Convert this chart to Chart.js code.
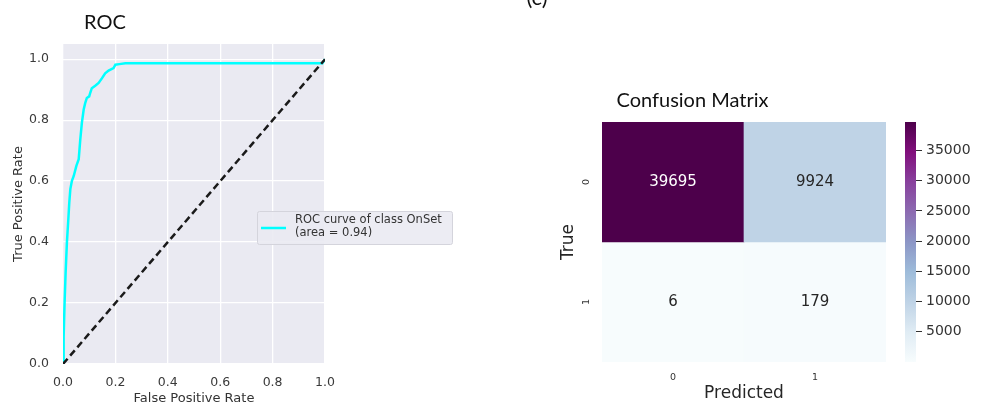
<!DOCTYPE html>
<html>
<head>
<meta charset="utf-8">
<script src="https://cdn.jsdelivr.net/npm/chart.js@4.4.1/dist/chart.umd.min.js"></script>
<style>
  html, body { margin: 0; padding: 0; background: #ffffff; }
  body { width: 984px; height: 406px; position: relative; overflow: hidden; }
  canvas { position: absolute; }
</style>
</head>
<body>
<canvas id="roc" width="560" height="406" style="left:0;top:0"></canvas>
<canvas id="cm" width="336" height="326" style="left:550px;top:80px"></canvas>
<canvas id="cbar" width="104" height="326" style="left:880px;top:80px"></canvas>
<script>
// ---------- ROC curve data ----------
const fpr = [0, 0.0025, 0.006, 0.01, 0.015, 0.02, 0.024, 0.028, 0.034, 0.041, 0.051, 0.06, 0.066,
             0.072, 0.079, 0.085, 0.091, 0.1, 0.104, 0.11, 0.123, 0.136, 0.149, 0.161, 0.174,
             0.193, 0.2, 0.215, 0.238, 0.5, 0.99, 1.0];
const tpr = [0, 0.09, 0.2, 0.3, 0.4, 0.47, 0.53, 0.574, 0.601, 0.617, 0.65, 0.672, 0.737,
             0.791, 0.835, 0.857, 0.873, 0.878, 0.89, 0.905, 0.913, 0.922, 0.938, 0.954, 0.963,
             0.971, 0.982, 0.984, 0.987, 0.987, 0.987, 1.0];
const chanceX = [0, 1];
const chanceY = [0, 1];
const rocTicks = [0, 0.2, 0.4, 0.6, 0.8, 1.0];
const rocLegend = ['ROC curve of class OnSet', '(area = 0.94)'];

// ---------- confusion matrix data ----------
const predLabels = ['0', '1'];
const trueLabels = ['0', '1'];
const row0 = [39695, 9924];
const row1 = [6, 179];
const cbTicks = [5000, 10000, 15000, 20000, 25000, 30000, 35000];

const matrix = [row0, row1];
const vmin = Math.min(...row0, ...row1);
const vmax = Math.max(...row0, ...row1);

// BuPu colour map
const BUPU = ['#f7fcfd', '#e0ecf4', '#bfd3e6', '#9ebcda', '#8c96c6', '#8c6bb1', '#88419d', '#810f7c', '#4d004b'];
function hexRgb(h) { return [1, 3, 5].map(i => parseInt(h.slice(i, i + 2), 16)); }
function bupu(t) {
  t = Math.max(0, Math.min(1, t));
  const p = t * (BUPU.length - 1);
  const i = Math.min(Math.floor(p), BUPU.length - 2);
  const f = p - i;
  const a = hexRgb(BUPU[i]), b = hexRgb(BUPU[i + 1]);
  const c = a.map((v, k) => Math.round(v + (b[k] - v) * f));
  return `rgb(${c[0]},${c[1]},${c[2]})`;
}
const norm = v => (v - vmin) / (vmax - vmin);

const SANS = "'DejaVu Sans', sans-serif";
const TITLE_FONT = "Lato, 'Open Sans', sans-serif";

// ---------- ROC chart ----------
const rocPlugin = {
  id: 'rocDecor',
  beforeDraw(chart) {
    const { ctx, chartArea: a } = chart;
    ctx.save();
    ctx.fillStyle = '#eaeaf2';
    ctx.fillRect(a.left, a.top, a.right - a.left, a.bottom - a.top);
    ctx.restore();
  },
  afterDraw(chart) {
    const { ctx } = chart;
    ctx.save();
    // titles
    ctx.fillStyle = '#111';
    ctx.font = `20px ${TITLE_FONT}`;
    ctx.textAlign = 'center';
    ctx.textBaseline = 'alphabetic';
    ctx.fillText('ROC', 105, 29);
    ctx.font = `22px ${TITLE_FONT}`;
    ctx.fillText('(c)', 537, 5);
    // legend
    const ds = chart.data.datasets.find(d => d.label);
    const x0 = 257, y0 = 211, w = 195, h = 33;
    ctx.fillStyle = 'rgba(234,234,242,0.9)';
    ctx.strokeStyle = '#d4d4dc';
    ctx.lineWidth = 1;
    ctx.beginPath();
    ctx.roundRect(x0 + 0.5, y0 + 0.5, w, h, 2);
    ctx.fill();
    ctx.stroke();
    ctx.strokeStyle = ds.borderColor;
    ctx.lineWidth = 2.5;
    ctx.beginPath();
    ctx.moveTo(261, 228);
    ctx.lineTo(286, 228);
    ctx.stroke();
    ctx.fillStyle = '#333';
    ctx.font = `11.5px ${SANS}`;
    ctx.textAlign = 'left';
    ctx.textBaseline = 'middle';
    ds.label.forEach((t, i) => ctx.fillText(t, 295, 220 + i * 13.3));
    ctx.restore();
  }
};

new Chart(document.getElementById('roc'), {
  type: 'line',
  data: {
    datasets: [
      {
        label: rocLegend,
        data: fpr.map((x, i) => ({ x, y: tpr[i] })),
        borderColor: '#00ffff',
        borderWidth: 2.5,
        pointRadius: 0,
        tension: 0,
        fill: false,
        order: 2
      },
      {
        data: chanceX.map((x, i) => ({ x, y: chanceY[i] })),
        borderColor: '#1a1a1a',
        borderWidth: 2.5,
        borderDash: [7, 4],
        pointRadius: 0,
        fill: false,
        order: 1
      }
    ]
  },
  options: {
    responsive: false,
    devicePixelRatio: 1,
    animation: false,
    layout: { padding: { top: 44, right: 235, left: 0, bottom: 0 } },
    plugins: { legend: { display: false }, tooltip: { enabled: false } },
    scales: {
      x: {
        type: 'linear', min: 0, max: 1,
        afterBuildTicks: s => { s.ticks = rocTicks.map(v => ({ value: v })); },
        afterFit: s => { s.height = 42; },
        grid: { color: '#ffffff', lineWidth: 1.3, drawTicks: false },
        border: { display: false },
        ticks: { callback: v => v.toFixed(1), color: '#3a3a3a', font: { family: SANS, size: 12.5 }, padding: 11, maxRotation: 0 },
        title: { display: true, text: 'False Positive Rate', color: '#333', font: { family: SANS, size: 13 }, padding: { top: 0, bottom: 0 } }
      },
      y: {
        type: 'linear', min: 0, max: 1.05,
        afterBuildTicks: s => { s.ticks = rocTicks.map(v => ({ value: v })); },
        afterFit: s => { s.width = 63; },
        grid: { color: '#ffffff', lineWidth: 1.3, drawTicks: false },
        border: { display: false },
        ticks: { callback: v => v.toFixed(1), color: '#3a3a3a', font: { family: SANS, size: 12.5 }, padding: 14 },
        title: { display: true, text: 'True Positive Rate', color: '#333', font: { family: SANS, size: 13 }, padding: { top: 11, bottom: 0 } }
      }
    }
  },
  plugins: [rocPlugin]
});

// ---------- confusion matrix heatmap ----------
const cellText = {
  id: 'cellText',
  afterDatasetsDraw(chart) {
    const { ctx } = chart;
    ctx.save();
    ctx.font = `15px ${SANS}`;
    ctx.textAlign = 'center';
    ctx.textBaseline = 'middle';
    chart.data.datasets.forEach((ds, r) => {
      chart.getDatasetMeta(r).data.forEach((bar, c) => {
        const v = matrix[r][c];
        ctx.fillStyle = norm(v) > 0.5 ? '#ffffff' : '#262626';
        ctx.fillText(String(v), bar.x, (bar.y + bar.base) / 2);
      });
    });
    ctx.fillStyle = '#111';
    ctx.font = `20px ${TITLE_FONT}`;
    ctx.textAlign = 'left';
    ctx.textBaseline = 'alphabetic';
    ctx.fillText('Confusion Matrix', 66.5, 26.5);
    ctx.restore();
  }
};

new Chart(document.getElementById('cm'), {
  type: 'bar',
  data: {
    labels: predLabels,
    datasets: matrix.map((row, r) => ({
      data: row.map(() => [r, r + 1]),
      backgroundColor: row.map(v => bupu(norm(v))),
      borderWidth: 0,
      grouped: false,
      barPercentage: 1,
      categoryPercentage: 1
    }))
  },
  options: {
    responsive: false,
    devicePixelRatio: 1,
    animation: false,
    layout: { padding: { top: 42, right: 0, left: 0, bottom: 0 } },
    plugins: { legend: { display: false }, tooltip: { enabled: false } },
    scales: {
      x: {
        type: 'category',
        afterFit: s => { s.height = 44; },
        grid: { display: false },
        border: { display: false },
        ticks: { color: '#333', font: { family: SANS, size: 9.5 }, padding: 2 },
        title: { display: true, text: 'Predicted', color: '#262626', font: { family: SANS, size: 17 }, padding: { top: 0, bottom: 2 } }
      },
      y: {
        type: 'linear', min: 0, max: 2, reverse: true,
        afterBuildTicks: s => { s.ticks = trueLabels.map((_, i) => ({ value: i + 0.5 })); },
        afterFit: s => { s.width = 52; },
        grid: { display: false },
        border: { display: false },
        ticks: {
          callback: v => trueLabels[Math.floor(v)],
          color: '#333', font: { family: SANS, size: 9.5 },
          minRotation: 90, maxRotation: 90, crossAlign: 'center', padding: 4
        },
        title: { display: true, text: 'True', color: '#262626', font: { family: SANS, size: 17 }, padding: { top: 8, bottom: 0 } }
      }
    }
  },
  plugins: [cellText]
});

// ---------- colour bar ----------
new Chart(document.getElementById('cbar'), {
  type: 'bar',
  data: {
    labels: [''],
    datasets: [{
      data: [[vmin, vmax]],
      backgroundColor(ctx) {
        const chart = ctx.chart;
        if (!chart.chartArea) return BUPU[0];
        const y = chart.scales.y;
        const g = chart.ctx.createLinearGradient(0, y.getPixelForValue(vmin), 0, y.getPixelForValue(vmax));
        BUPU.forEach((c, i) => g.addColorStop(i / (BUPU.length - 1), c));
        return g;
      },
      borderWidth: 0,
      barPercentage: 1,
      categoryPercentage: 1
    }]
  },
  options: {
    responsive: false,
    devicePixelRatio: 1,
    animation: false,
    layout: { padding: { top: 42, right: 0, left: 25, bottom: 44 } },
    plugins: { legend: { display: false }, tooltip: { enabled: false } },
    scales: {
      x: { type: 'category', display: false },
      y: {
        type: 'linear', position: 'right', min: vmin, max: vmax,
        afterBuildTicks: s => { s.ticks = cbTicks.map(v => ({ value: v })); },
        afterFit: s => { s.width = 68; },
        grid: { drawOnChartArea: false, drawTicks: true, tickLength: 6, color: '#333', lineWidth: 1 },
        border: { display: false },
        ticks: { callback: v => String(v), color: '#333', font: { family: SANS, size: 14 }, padding: 4 }
      }
    }
  }
});
</script>
</body>
</html>
